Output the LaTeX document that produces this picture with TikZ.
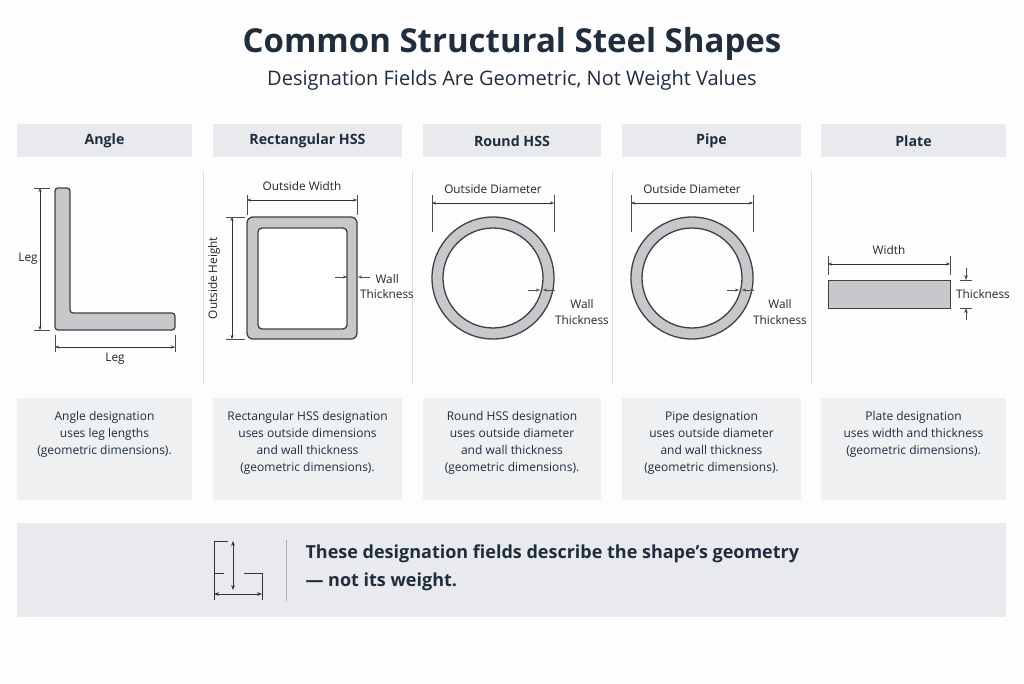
\documentclass[tikz,border=0pt]{standalone}
\usepackage{fontspec}
\setmainfont{Open Sans}
\usetikzlibrary{arrows.meta}
\definecolor{navy}{HTML}{1F2D3D}
\definecolor{panel}{HTML}{E8EAED}
\definecolor{steel}{HTML}{C6C8CB}
\tikzset{header/.style={fill=panel,draw=none}}
\tikzset{note/.style={fill=panel!70!white,draw=none}}
\tikzset{section/.style={font=\fontsize{14.2}{16}\selectfont\bfseries,text=navy,anchor=center}}
\tikzset{caption/.style={font=\fontsize{12}{16.8}\selectfont,text=navy,align=center,anchor=north}}
\tikzset{profile/.style={fill=steel,draw=black!75,line width=1.3pt}}
\tikzset{dim/.style={draw=black!80,line width=0.6pt,{Stealth[length=4pt]}-{Stealth[length=4pt]}}}
\tikzset{ext/.style={draw=black!70,line width=0.5pt}}
\tikzset{lbl/.style={font=\fontsize{11.8}{13}\selectfont,text=black!85}}
\begin{document}
\begin{tikzpicture}[x=1pt,y=-1pt]
\fill[white!96!black!20] (0,0) rectangle (1024,683);
\useasboundingbox (0,0) rectangle (1024,683);
% title
\node[font=\fontsize{33}{36}\selectfont\bfseries,text=navy] (title) at (512,44) {Common Structural Steel Shapes};
\node[font=\fontsize{20}{22}\selectfont,text=navy] (subtitle) at (512,80) {Designation Fields Are Geometric, Not Weight Values};
% headers and notes
\foreach \xa/\xb/\name in {17/192/Angle,213/402/Rectangular HSS,423/601/Round HSS,622/801/Pipe,821/1006/Plate}{
  \fill[header] (\xa,124) rectangle (\xb,157);
  \node[section] at ({(\xa+\xb)/2},141) {\name};
  \fill[note] (\xa,398) rectangle (\xb,500);
}
\foreach \x in {203,412,612,811}
  \draw[black!12,line width=0.6pt] (\x,170) -- (\x,385);
\node[caption] (angleNote) at (104.5,408) {Angle designation\\uses leg lengths\\(geometric dimensions).};
\node[caption] (rectNote) at (307.5,408) {Rectangular HSS designation\\uses outside dimensions\\and wall thickness\\(geometric dimensions).};
\node[caption] (roundNote) at (512,408) {Round HSS designation\\uses outside diameter\\and wall thickness\\(geometric dimensions).};
\node[caption] (pipeNote) at (711.5,408) {Pipe designation\\uses outside diameter\\and wall thickness\\(geometric dimensions).};
\node[caption] (plateNote) at (913.5,408) {Plate designation\\uses width and thickness\\(geometric dimensions).};
% angle
\draw[profile,rounded corners=3pt] (55,188) -- (70,188) -- (70,313) -- (175,313) -- (175,330) -- (55,330) -- cycle;
\draw[ext] (34,188) -- (50,188) (34,330) -- (50,330);
\draw[dim] (40,188) -- (40,330);
\node[lbl] at (28,259) {Leg};
\draw[ext] (55,335) -- (55,352) (175,335) -- (175,352);
\draw[dim] (55,347) -- (175,347);
\node[lbl] at (115,359) {Leg};
% rectangular HSS
\draw[profile,rounded corners=6pt] (247,217) rectangle (357,339);
\draw[profile,fill=white,rounded corners=4pt] (258,228) rectangle (347,329);
\draw[ext] (247,195) -- (247,215) (357,195) -- (357,215);
\draw[dim] (247,200) -- (357,200);
\node[lbl] at (302,186) {Outside Width};
\draw[ext] (226,217) -- (245,217) (226,339) -- (245,339);
\draw[dim] (232,217) -- (232,339);
\node[lbl,rotate=90] at (214,278) {Outside Height};
\draw[ext,-{Stealth[length=4pt]}] (335,277) -- (347,277);
\draw[ext,-{Stealth[length=4pt]}] (370,277) -- (358,277);
\node[lbl,anchor=west] at (372,279) {Wall};
\node[lbl] at (387,294) {Thickness};
% round HSS and pipe
\foreach \cx/\lx in {493/582,692/780}{
  \fill[steel,even odd rule] (\cx,278) circle[radius=61] (\cx,278) circle[radius=50];
  \draw[black!75,line width=1.3pt] (\cx,278) circle[radius=61] (\cx,278) circle[radius=50];
  \draw[ext] ({\cx-61},195) -- ({\cx-61},232) ({\cx+61},195) -- ({\cx+61},232);
  \draw[dim] ({\cx-61},203) -- ({\cx+61},203);
  \node[lbl] at (\cx,189) {Outside Diameter};
  \draw[ext,-{Stealth[length=4pt]}] ({\cx+35},290) -- ({\cx+47},290);
  \draw[ext,-{Stealth[length=4pt]}] ({\cx+62},290) -- ({\cx+50},290);
  \node[lbl] at (\lx,304) {Wall};
  \node[lbl] at (\lx,320) {Thickness};
}
% plate
\draw[profile,line width=1pt] (828,280) rectangle (950,308);
\draw[ext] (828,256) -- (828,275) (950,256) -- (950,275);
\draw[dim] (828,264) -- (950,264);
\node[lbl] at (889,250) {Width};
\draw[ext] (960,280) -- (972,280) (960,308) -- (972,308);
\draw[ext,line width=0.6pt,-{Stealth[length=5pt]}] (966,268) -- (966,280);
\draw[ext,line width=0.6pt,-{Stealth[length=5pt]}] (966,320) -- (966,308);
\node[lbl] at (983,294) {Thickness};
% bottom band
\fill[header] (17,523) rectangle (1006,617);
\draw[black!80,line width=1pt] (228,541) -- (214,541) -- (214,600) (214,573) -- (224,573) (244,573) -- (262,573) -- (262,600);
\draw[black!80,line width=1pt,{Stealth[length=5pt]}-{Stealth[length=5pt]}] (233,541) -- (233,590);
\draw[black!80,line width=1pt,{Stealth[length=5pt]}-{Stealth[length=5pt]}] (214,594) -- (262,594);
\draw[black!30,line width=0.8pt] (286,540) -- (286,601);
\node[font=\fontsize{18}{20}\selectfont\bfseries,text=navy,anchor=west] (bandText1) at (302,554) {These designation fields describe the shape’s geometry};
\node[font=\fontsize{18}{20}\selectfont\bfseries,text=navy,anchor=west] (bandText2) at (302,582) {— not its weight.};
\end{tikzpicture}
\end{document}
